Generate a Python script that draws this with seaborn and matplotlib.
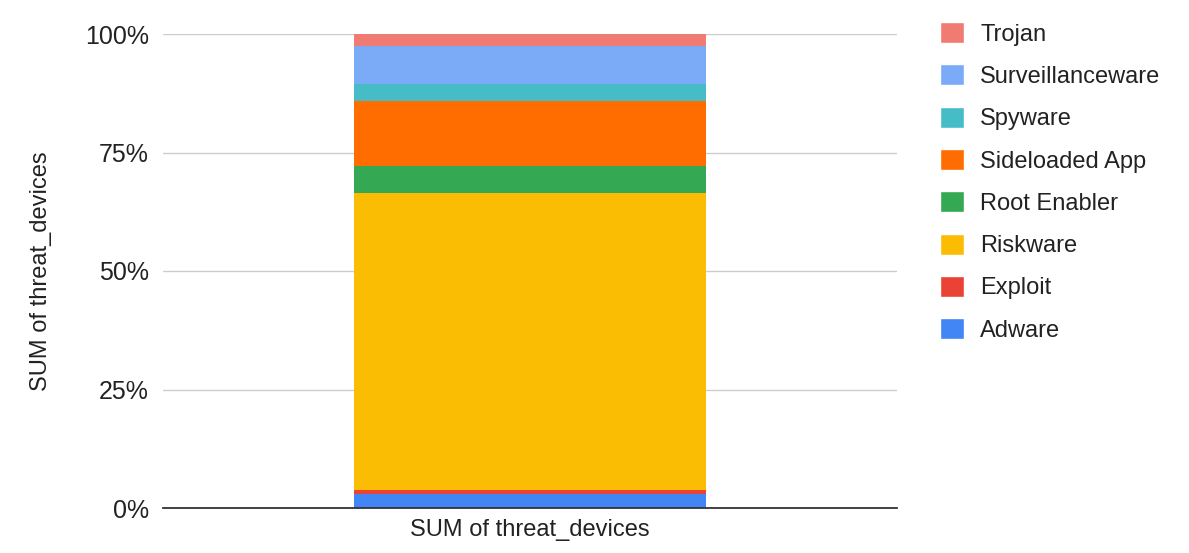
import pandas as pd
import seaborn as sns
import matplotlib.pyplot as plt
from matplotlib.patches import Patch
from matplotlib.ticker import PercentFormatter

# threat share per category (in %)
categories = ['Adware', 'Exploit', 'Riskware', 'Root Enabler',
              'Sideloaded App', 'Spyware', 'Surveillanceware', 'Trojan']
shares = [2.85, 0.85, 62.7, 5.7, 13.7, 3.7, 8.0, 2.5]
colors = ['#4285F4', '#EA4335', '#FBBC04', '#34A853',
          '#FF6D01', '#46BDC6', '#7BAAF7', '#F07B72']
bar_label = 'SUM of threat_devices'

sns.set_style('white')
plt.rcParams['font.family'] = ['Liberation Sans', 'DejaVu Sans']

df = pd.DataFrame({'cat': categories, 'share': shares})
df['share'] = df['share'] / df['share'].sum()
df['top'] = df['share'].cumsum()

fig = plt.figure(figsize=(11.89, 5.53), dpi=100)
ax = fig.add_axes([163 / 1189, 1 - 508 / 553, 734 / 1189, 474 / 553])

# stacked bar: draw cumulative totals from the top down
for i in range(len(df) - 1, -1, -1):
    sns.barplot(x=[bar_label], y=[df['top'].iloc[i]], color=colors[i],
                width=0.48, saturation=1, linewidth=0, ax=ax, zorder=2)

ax.set_ylim(0, 1)
ax.set_xlim(-0.5, 0.5)
ax.yaxis.set_major_locator(plt.FixedLocator([0, 0.25, 0.5, 0.75, 1.0]))
ax.yaxis.set_major_formatter(PercentFormatter(1.0, decimals=0))
ax.grid(axis='y', color='#cccccc', linewidth=1, zorder=0)
ax.set_axisbelow(True)
for s in ['top', 'right', 'left']:
    ax.spines[s].set_visible(False)
ax.spines['bottom'].set_color('#333333')
ax.spines['bottom'].set_linewidth(1.3)
ax.tick_params(axis='y', length=0, labelsize=18, colors='#222222', pad=10)
ax.tick_params(axis='x', length=0, labelsize=17, colors='#222222', pad=8)
ax.set_ylabel(bar_label, fontsize=17, color='#222222', labelpad=24)
ax.set_xlabel('')

handles = [Patch(facecolor=colors[i], label=categories[i])
           for i in range(len(categories) - 1, -1, -1)]
fig.legend(handles=handles, loc='upper left', bbox_to_anchor=(940 / 1189, 1 - 22 / 553),
           frameon=False, fontsize=17, handlelength=1.0, handleheight=1.0,
           handletextpad=0.7, labelspacing=0.79, borderpad=0, borderaxespad=0,
           labelcolor='#222222')

fig.savefig('out.png', dpi=100)
